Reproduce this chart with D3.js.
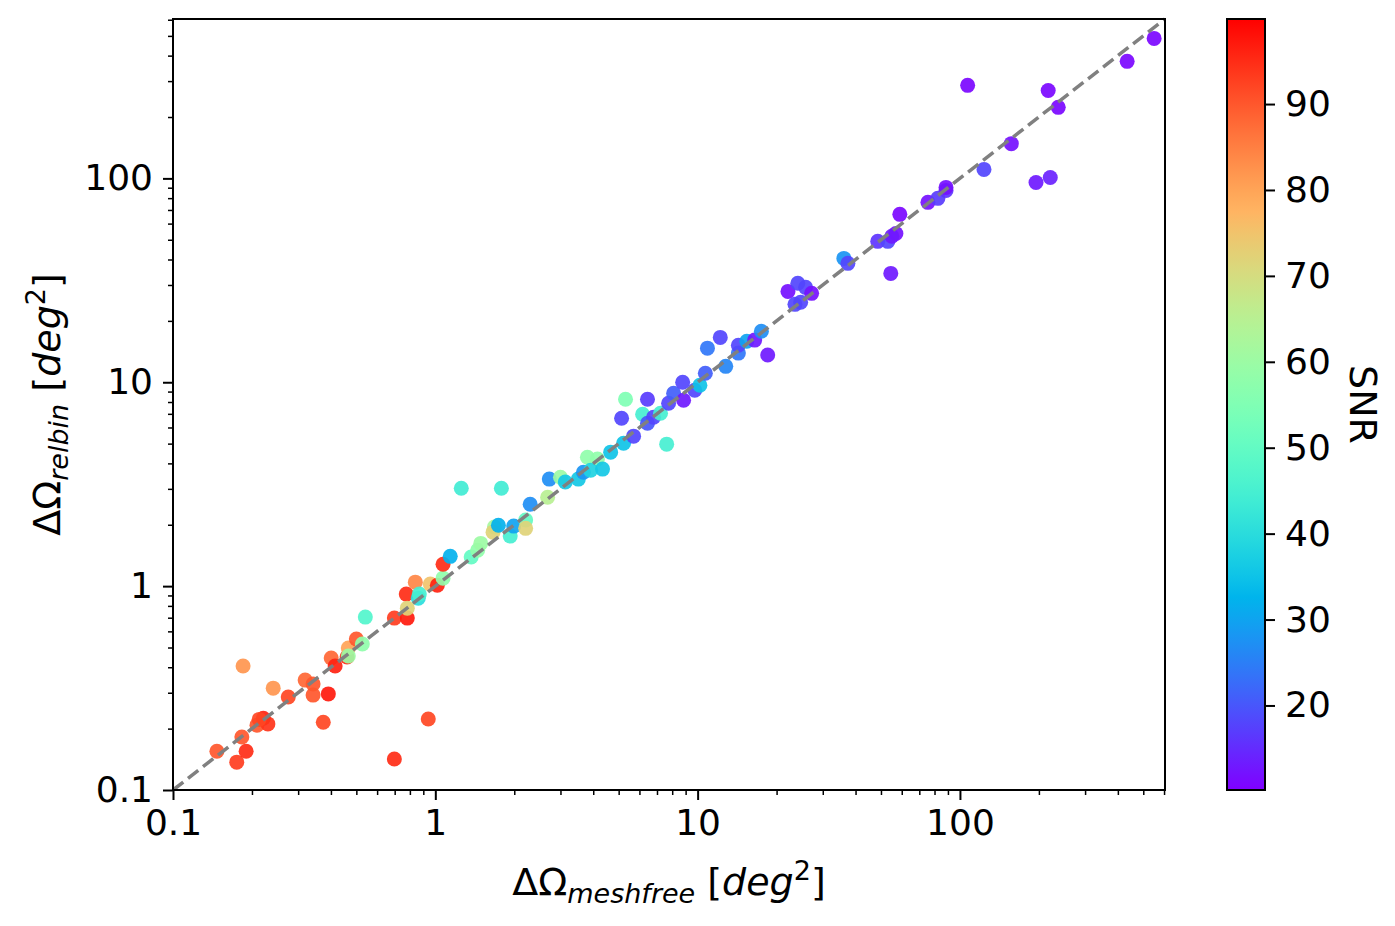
<!DOCTYPE html>
<html>
<head>
<style>
    body {
        margin: 0;
        background-color: #fff;
        font-family: "DejaVu Sans", sans-serif;
    }
    .tick text {
        font-family: "DejaVu Sans", sans-serif;
        font-size: 36px;
        fill: #000;
    }
    .tick line {
        stroke: #000;
    }
    .major .tick line { stroke-width: 2px; }
    .minor .tick line { stroke-width: 1.5px; }
    .lbl {
        font-family: "DejaVu Sans", sans-serif;
        font-size: 38px;
        fill: #000;
    }
</style>
</head>
<body>
<svg id="chart" width="1395" height="926"></svg>
<script src="https://cdn.jsdelivr.net/npm/d3@7"></script>
<script>
// sky localisation area, meshfree vs relbin
var meshfree = [0.147,0.175,0.19,0.183,0.209,0.221,0.23,0.213,0.185,0.241,
    0.275,0.319,0.342,0.342,0.391,0.374,0.401,0.415,0.461,0.466,
    0.466,0.5,0.527,0.541,0.698,0.698,0.782,0.775,0.782,0.839,
    0.861,0.869,0.957,1.018,1.07,1.07,1.14,0.94,1.37,1.45,1.49,
    1.256,1.786,1.68,1.66,1.74,1.93,1.99,2.21,2.21,2.30,
    2.68,2.72,3.0,3.13,3.51,3.67,3.80,4.15,3.91,4.34,4.66,5.22,
    5.70,7.62,5.31,6.44,5.13,6.17,6.44,6.79,7.22,7.75,
    8.10,8.84,8.77,9.75,10.2,10.7,12.8,10.9,12.2,14.3,14.3,15.4,16.5,17.5,18.5,
    22.1,24.1,25.8,27.2,23.5,24.7,36.1,37.4,54.5,48.6,
    53.1,57.0,59.0,55.0,75.5,82.4,88.5,88.5,123.5,107,157,195,221,217,237,434,550];

var relbin = [0.155,0.137,0.155,0.182,0.208,0.225,0.211,0.222,0.406,0.316,
    0.286,0.346,0.331,0.292,0.296,0.215,0.444,0.406,0.449,0.497,
    0.454,0.55,0.52,0.705,0.142,0.697,0.697,0.914,0.78,1.046,
    0.873,0.914,1.023,1.01,1.094,1.28,1.40,0.223,1.39,1.50,1.62,
    3.02,3.02,1.95,1.84,1.99,1.76,1.97,2.11,1.92,2.52,
    2.73,3.35,3.42,3.24,3.35,3.62,4.29,4.20,3.70,3.75,4.54,5.02,
    5.44,4.97,8.26,8.26,6.66,6.97,6.29,6.74,7.05,7.89,
    8.83,8.16,10.0,9.14,9.67,11.07,11.97,14.7,16.6,13.9,15.2,15.9,16.1,17.8,13.6,
    27.9,30.6,29.2,27.3,24.1,24.7,40.5,38.3,34.2,49.1,
    49.1,53.7,66.6,52.0,76.3,79.8,87.3,90.3,110.7,286,148,95.5,101,270,223,375,486];

var snr = [90,93,95,90,90,96,94,92,82,82,
    92,88,90,90,97,92,88,96,95,80,
    60,90,58,47,95,93,97,95,72,84,
    40,45,75,96,58,95,32,92,50,58,60,
    44,44,62,72,32,45,30,50,72,27,
    65,27,60,36,36,28,58,58,38,36,35,35,
    18,45,55,17,18,45,20,18,45,18,
    21,13,18,18,35,21,26,24,18,24,18,30,13,27,13,
    12,18,18,12,18,18,28,18,13,16,
    18,12,11,13,12,17,16,12,18,11,12,13,14,11,11,11,11];

var axisTicks = [0.1, 1, 10, 100];
var cbarTicks = [20, 30, 40, 50, 60, 70, 80, 90];
var snrMin = 10.16, snrMax = 99.9;
var areaMin = 0.1, areaMax = 605;

var svg = d3.select("#chart"),
    margin = {top: 19, left: 173},
    width = 992,
    height = 771;

svg.append("rect").attr("width", 1395).attr("height", 926).attr("fill", "#fff");

var g = svg.append("g")
    .attr("transform", "translate(" + margin.left + "," + margin.top + ")");

var x = d3.scaleLog().domain([areaMin, areaMax]).range([0, width]);
var y = d3.scaleLog().domain([areaMin, areaMax]).range([height, 0]);
var c = d3.scaleLinear().domain([snrMin, snrMax]).range([height, 0]);

// matplotlib "rainbow"
function rainbow(t) {
    t = Math.max(0, Math.min(1, t));
    var r = Math.min(1, Math.abs(2 * t - 0.5)),
        gr = Math.sin(Math.PI * t),
        b = Math.cos(Math.PI * t / 2);
    return d3.rgb(r * 255, gr * 255, b * 255).formatHex();
}
function snrColor(v) { return rainbow((v - snrMin) / (snrMax - snrMin)); }

// minor ticks 2..9 per decade
var minor = [];
axisTicks.concat([1000]).forEach(function(d) {
    for (var k = 2; k < 10; k++) {
        var v = d * k;
        if (v <= areaMax) minor.push(v);
    }
});

var fmt = d3.format("~g");

g.append("g").attr("class", "minor")
    .attr("transform", "translate(0," + height + ")")
    .call(d3.axisBottom(x).tickValues(minor).tickFormat("").tickSize(5).tickSizeOuter(0))
    .select(".domain").remove();
g.append("g").attr("class", "major")
    .attr("transform", "translate(0," + height + ")")
    .call(d3.axisBottom(x).tickValues(axisTicks).tickFormat(fmt).tickSize(10).tickSizeOuter(0).tickPadding(9))
    .select(".domain").remove();

g.append("g").attr("class", "minor")
    .call(d3.axisLeft(y).tickValues(minor).tickFormat("").tickSize(5).tickSizeOuter(0))
    .select(".domain").remove();
g.append("g").attr("class", "major")
    .call(d3.axisLeft(y).tickValues(axisTicks).tickFormat(fmt).tickSize(10).tickSizeOuter(0).tickPadding(10))
    .select(".domain").remove();

g.append("clipPath").attr("id", "plotclip")
    .append("rect").attr("width", width).attr("height", height);

var pts = d3.range(meshfree.length);
g.append("g").attr("clip-path", "url(#plotclip)")
    .selectAll("circle").data(pts).enter().append("circle")
    .attr("cx", function(i) { return x(meshfree[i]); })
    .attr("cy", function(i) { return y(relbin[i]); })
    .attr("r", 7.5)
    .attr("fill", function(i) { return snrColor(snr[i]); })
    .attr("fill-opacity", 0.92);

// y = x reference line
g.append("line")
    .attr("x1", x(areaMin)).attr("y1", y(areaMin))
    .attr("x2", x(areaMax)).attr("y2", y(areaMax))
    .attr("stroke", "#808080")
    .attr("stroke-width", 3.5)
    .attr("stroke-dasharray", "13,6");

g.append("rect")
    .attr("width", width).attr("height", height)
    .attr("fill", "none").attr("stroke", "#000").attr("stroke-width", 2);

// axis labels with sub/superscripts
function mathLabel(sel, sub) {
    sel.append("tspan").text("\u0394\u03A9");
    sel.append("tspan").attr("font-size", "27px").attr("font-style", "italic")
        .attr("dy", 8).text(sub);
    sel.append("tspan").attr("dy", -8).text(" [");
    sel.append("tspan").attr("font-style", "italic").text("deg");
    sel.append("tspan").attr("font-size", "27px").attr("dy", -15).text("2");
    sel.append("tspan").attr("dy", 15).text("]");
}

svg.append("text").attr("class", "lbl")
    .attr("text-anchor", "middle")
    .attr("x", margin.left + width / 2).attr("y", 895)
    .call(mathLabel, "meshfree");

svg.append("text").attr("class", "lbl")
    .attr("text-anchor", "middle")
    .attr("transform", "translate(60," + (margin.top + height / 2) + ") rotate(-90)")
    .call(mathLabel, "relbin");

// colorbar
var cbX = 1227, cbW = 38;
var grad = svg.append("defs").append("linearGradient")
    .attr("id", "cbgrad")
    .attr("x1", 0).attr("y1", 1).attr("x2", 0).attr("y2", 0);
d3.range(0, 41).forEach(function(i) {
    grad.append("stop").attr("offset", i / 40).attr("stop-color", rainbow(i / 40));
});

var cb = svg.append("g").attr("transform", "translate(" + cbX + "," + margin.top + ")");
cb.append("rect").attr("width", cbW).attr("height", height).attr("fill", "url(#cbgrad)");
cb.append("g").attr("class", "major")
    .attr("transform", "translate(" + cbW + ",0)")
    .call(d3.axisRight(c).tickValues(cbarTicks).tickSize(10).tickSizeOuter(0).tickPadding(10))
    .select(".domain").remove();
cb.append("rect").attr("width", cbW).attr("height", height)
    .attr("fill", "none").attr("stroke", "#000").attr("stroke-width", 2);

svg.append("text").attr("class", "lbl")
    .attr("text-anchor", "middle")
    .attr("transform", "translate(1350," + (margin.top + height / 2) + ") rotate(90)")
    .text("SNR");
</script>
</body>
</html>
